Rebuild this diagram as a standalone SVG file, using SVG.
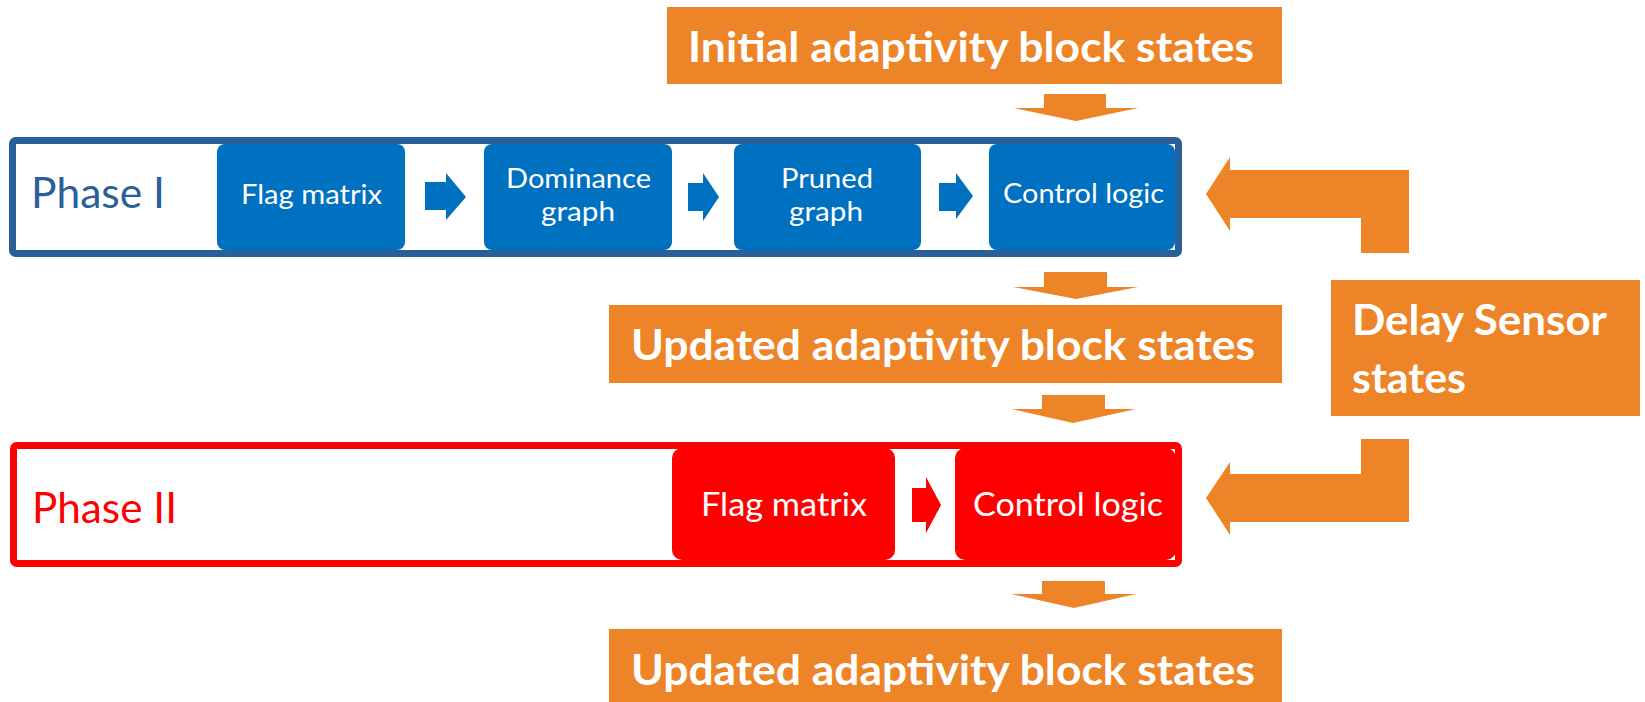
<svg xmlns="http://www.w3.org/2000/svg" width="1645" height="702" viewBox="0 0 1645 702">
  <style>
    .bg { fill: #ffffff; }
    .state { fill: #EE8428; }
    .state-text { font-family: Lato, "Open Sans", "Liberation Sans", sans-serif; font-weight: bold; font-size: 42px; fill: #ffffff; }
    .phase1-frame { fill: #ffffff; stroke: #2A6099; stroke-width: 7; }
    .phase2-frame { fill: #ffffff; stroke: #FF0000; stroke-width: 7; }
    .phase-label { font-family: Lato, "Open Sans", "Liberation Sans", sans-serif; font-size: 43px; }
    .blue-step { fill: #0070C0; }
    .red-step { fill: #FF0000; }
    .step-text { font-family: Lato, "Open Sans", "Liberation Sans", sans-serif; font-size: 27px; fill: #ffffff; text-anchor: middle; }
    .step-text-lg { font-family: Lato, "Open Sans", "Liberation Sans", sans-serif; font-size: 32px; fill: #ffffff; text-anchor: middle; }
    .flow { fill: #EE8428; }
    .blue-flow { fill: #0070C0; }
    .red-flow { fill: #FF0000; }
  </style>

  <rect class="bg" x="0" y="0" width="1645" height="702"/>

  <!-- state boxes -->
  <g id="initial-states">
    <rect class="state" x="667" y="7" width="615" height="77"/>
    <text class="state-text" x="971" y="62" text-anchor="middle" textLength="566" lengthAdjust="spacingAndGlyphs">Initial adaptivity block states</text>
  </g>

  <g id="updated-states-1">
    <rect class="state" x="609" y="305" width="673" height="78"/>
    <text class="state-text" x="943" y="360" text-anchor="middle" textLength="624" lengthAdjust="spacingAndGlyphs">Updated adaptivity block states</text>
  </g>

  <g id="updated-states-2">
    <rect class="state" x="609" y="629" width="673" height="73"/>
    <text class="state-text" x="943" y="685" text-anchor="middle" textLength="624" lengthAdjust="spacingAndGlyphs">Updated adaptivity block states</text>
  </g>

  <g id="delay-sensor-states">
    <rect class="state" x="1331" y="280" width="309" height="136"/>
    <text class="state-text" x="1352" y="335" textLength="255" lengthAdjust="spacingAndGlyphs">Delay Sensor</text>
    <text class="state-text" x="1352" y="393" textLength="114" lengthAdjust="spacingAndGlyphs">states</text>
  </g>

  <!-- Phase I -->
  <g id="phase-1">
    <rect class="phase1-frame" x="12.5" y="140.5" width="1166" height="113" rx="3"/>
    <text class="phase-label" x="31" y="208" fill="#2A6099" textLength="134" lengthAdjust="spacingAndGlyphs">Phase I</text>
  </g>

  <g id="p1-flag-matrix">
    <rect class="blue-step" x="217" y="144" width="188" height="106" rx="8"/>
    <text class="step-text" x="311.5" y="204" textLength="141" lengthAdjust="spacingAndGlyphs">Flag matrix</text>
  </g>

  <g id="p1-dominance-graph">
    <rect class="blue-step" x="484" y="144" width="188" height="106" rx="8"/>
    <text class="step-text" x="578.5" y="188" textLength="145" lengthAdjust="spacingAndGlyphs">Dominance</text>
    <text class="step-text" x="578" y="221" textLength="74" lengthAdjust="spacingAndGlyphs">graph</text>
  </g>

  <g id="p1-pruned-graph">
    <rect class="blue-step" x="734" y="144" width="187" height="106" rx="8"/>
    <text class="step-text" x="827" y="188" textLength="92" lengthAdjust="spacingAndGlyphs">Pruned</text>
    <text class="step-text" x="826" y="221" textLength="74" lengthAdjust="spacingAndGlyphs">graph</text>
  </g>

  <g id="p1-control-logic">
    <rect class="blue-step" x="989" y="144" width="186" height="106" rx="8"/>
    <text class="step-text" x="1083.5" y="203" textLength="161" lengthAdjust="spacingAndGlyphs">Control logic</text>
  </g>

  <!-- Phase II -->
  <g id="phase-2">
    <rect class="phase2-frame" x="13.5" y="445.5" width="1165" height="118" rx="3"/>
    <text class="phase-label" x="32" y="523" fill="#FF0000" textLength="145" lengthAdjust="spacingAndGlyphs">Phase II</text>
  </g>

  <g id="p2-flag-matrix">
    <rect class="red-step" x="672" y="448" width="223" height="112" rx="10"/>
    <text class="step-text-lg" x="784" y="516" textLength="166" lengthAdjust="spacingAndGlyphs">Flag matrix</text>
  </g>

  <g id="p2-control-logic">
    <rect class="red-step" x="955" y="448" width="221" height="112" rx="10"/>
    <text class="step-text-lg" x="1068" y="516" textLength="190" lengthAdjust="spacingAndGlyphs">Control logic</text>
  </g>

  <!-- connectors: block arrows -->
  <g id="connectors">
    <!-- inside Phase I -->
    <polygon class="blue-flow" points="425,182 446,182 446,173 466,197 446,220 446,210 425,210"/>
    <polygon class="blue-flow" points="688,183 703,183 703,173 719,197 703,221 703,211 688,211"/>
    <polygon class="blue-flow" points="939,183 956,183 956,173 973,196 956,219 956,211 939,211"/>
    <!-- inside Phase II -->
    <polygon class="red-flow" points="912,488 926,488 926,477 941,505 926,533 926,522 912,522"/>

    <!-- downward state flow -->
    <polygon class="flow" points="1044,94 1106,94 1106,108 1138,108 1076,121 1014,108 1044,108"/>
    <polygon class="flow" points="1044,272 1107,272 1107,287 1138,287 1076,299 1013,287 1044,287"/>
    <polygon class="flow" points="1042,395 1105,395 1105,409 1136,409 1073,423 1012,409 1042,409"/>
    <polygon class="flow" points="1042,581 1105,581 1105,594 1136,594 1074,608 1011,594 1042,594"/>

    <!-- delay sensor feeds into both control logic blocks -->
    <polygon class="flow" points="1206,194 1230,157 1230,170 1409,170 1409,253 1361,253 1361,218 1230,218 1230,231"/>
    <polygon class="flow" points="1361,439 1409,439 1409,522 1230,522 1230,535 1206,498 1230,462 1230,474 1361,474"/>
  </g>
</svg>
